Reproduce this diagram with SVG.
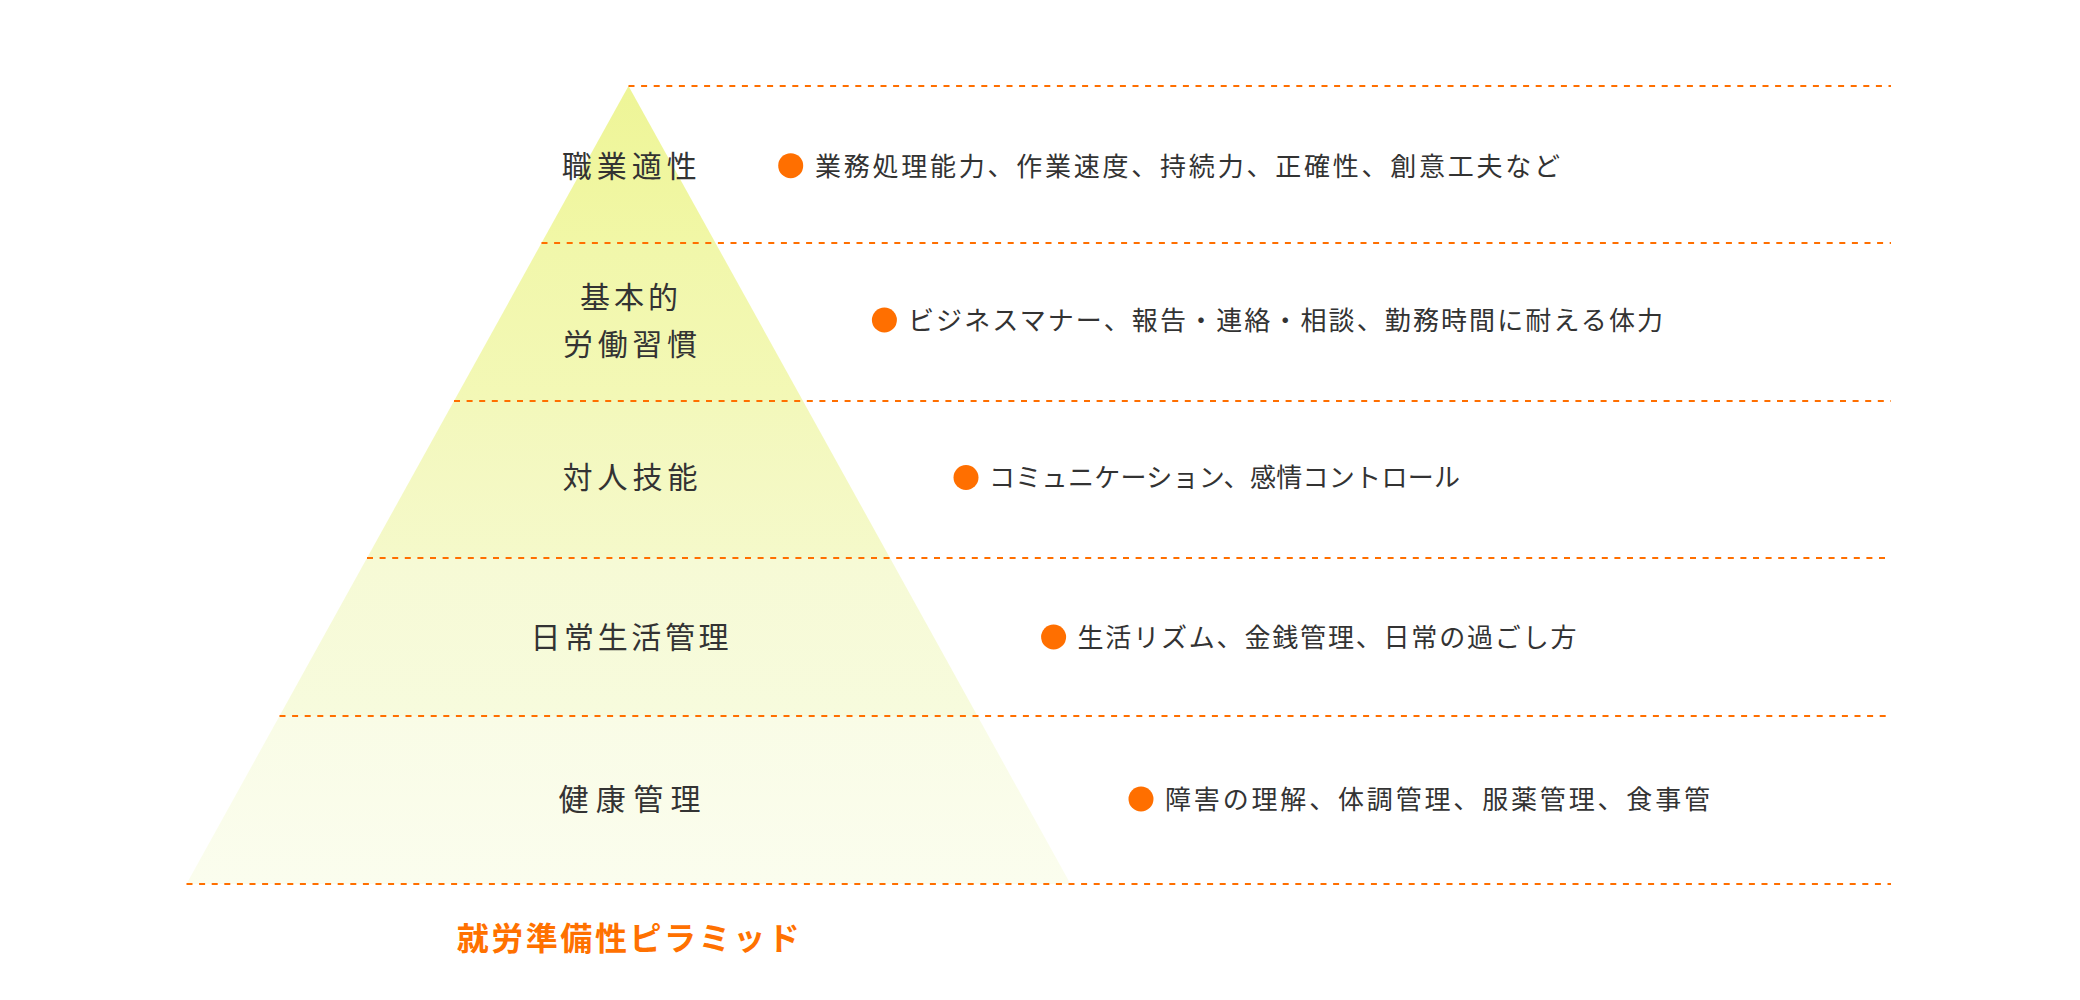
<svg xmlns="http://www.w3.org/2000/svg" width="2080" height="1000" viewBox="0 0 2080 1000">
  <defs>
    <style>
      .lbl { font-family: "Noto Sans CJK JP", "Noto Sans", sans-serif; font-size: 30px; fill: #333333; font-weight: 400; }
      .desc { font-family: "Noto Sans CJK JP", "Noto Sans", sans-serif; font-size: 26px; fill: #333333; }
      .title { font-family: "Noto Sans CJK JP", "Noto Sans", sans-serif; font-size: 32px; fill: #ff7100; font-weight: 700; }
      .dot { fill: #ff6f00; }
      .sep { stroke: #ff6f00; stroke-width: 2; stroke-dasharray: 6 6.6; fill: none; }
    </style>
    <linearGradient id="g1" x1="0" y1="0" x2="0" y2="1"><stop offset="0" stop-color="#eef597"/><stop offset="1" stop-color="#f1f7a6"/></linearGradient>
    <linearGradient id="g2" x1="0" y1="0" x2="0" y2="1"><stop offset="0" stop-color="#f1f7aa"/><stop offset="1" stop-color="#f3f8b6"/></linearGradient>
    <linearGradient id="g3" x1="0" y1="0" x2="0" y2="1"><stop offset="0" stop-color="#f3f8bb"/><stop offset="1" stop-color="#f5f9ca"/></linearGradient>
    <linearGradient id="g4" x1="0" y1="0" x2="0" y2="1"><stop offset="0" stop-color="#f6fad5"/><stop offset="1" stop-color="#f7fbdd"/></linearGradient>
    <linearGradient id="g5" x1="0" y1="0" x2="0" y2="1"><stop offset="0" stop-color="#f9fce6"/><stop offset="1" stop-color="#fbfdee"/></linearGradient>
  </defs>
  <rect width="2080" height="1000" fill="#ffffff"/>

  <g id="layer-1">
    <polygon points="628.5,86 715.5,243 541.5,243" fill="url(#g1)"/>
    <text class="lbl" x="561.7" y="177.4" textLength="135" lengthAdjust="spacing">職業適性</text>
    <circle class="dot" cx="790.7" cy="165.7" r="12.5"/>
    <text class="desc" x="815" y="175.9" textLength="745" lengthAdjust="spacing">業務処理能力、作業速度、持続力、正確性、創意工夫など</text>
  </g>

  <g id="layer-2">
    <polygon points="541.5,243 715.5,243 803,401 454,401" fill="url(#g2)"/>
    <text class="lbl" x="580" y="308.4" textLength="98" lengthAdjust="spacing">基本的</text>
    <text class="lbl" x="563" y="355.4" textLength="134" lengthAdjust="spacing">労働習慣</text>
    <circle class="dot" cx="884.4" cy="320" r="12.5"/>
    <text class="desc" x="908" y="329.9" textLength="755" lengthAdjust="spacing">ビジネスマナー、報告・連絡・相談、勤務時間に耐える体力</text>
  </g>

  <g id="layer-3">
    <polygon points="454,401 803,401 890,558 367,558" fill="url(#g3)"/>
    <text class="lbl" x="562.5" y="488.4" textLength="135" lengthAdjust="spacing">対人技能</text>
    <circle class="dot" cx="966" cy="477.5" r="12.5"/>
    <text class="desc" x="989" y="487.4" textLength="471" lengthAdjust="spacing">コミュニケーション、感情コントロール</text>
  </g>

  <g id="layer-4">
    <polygon points="367,558 890,558 977.5,716 279.5,716" fill="url(#g4)"/>
    <text class="lbl" x="530.5" y="648.1" textLength="198" lengthAdjust="spacing">日常生活管理</text>
    <circle class="dot" cx="1053.6" cy="637" r="12.5"/>
    <text class="desc" x="1077.5" y="646.9" textLength="499" lengthAdjust="spacing">生活リズム、金銭管理、日常の過ごし方</text>
  </g>

  <g id="layer-5">
    <polygon points="279.5,716 977.5,716 1070.5,884 186.5,884" fill="url(#g5)"/>
    <text class="lbl" x="558.5" y="810.4" textLength="142" lengthAdjust="spacing">健康管理</text>
    <circle class="dot" cx="1141" cy="799" r="12.5"/>
    <text class="desc" x="1165" y="808.9" textLength="545" lengthAdjust="spacing">障害の理解、体調管理、服薬管理、食事管</text>
  </g>

  <g id="connectors">
    <line class="sep" x1="628.5" y1="86" x2="1891" y2="86"/>
    <line class="sep" x1="541.5" y1="243" x2="1891" y2="243"/>
    <line class="sep" x1="454" y1="401" x2="1891" y2="401"/>
    <line class="sep" x1="367" y1="558" x2="1891" y2="558"/>
    <line class="sep" x1="279.5" y1="716" x2="1891" y2="716"/>
    <line class="sep" x1="186.5" y1="884" x2="1891" y2="884"/>
  </g>

  <g id="title">
    <text class="title" x="456.7" y="950" textLength="343" lengthAdjust="spacing">就労準備性ピラミッド</text>
  </g>
</svg>
